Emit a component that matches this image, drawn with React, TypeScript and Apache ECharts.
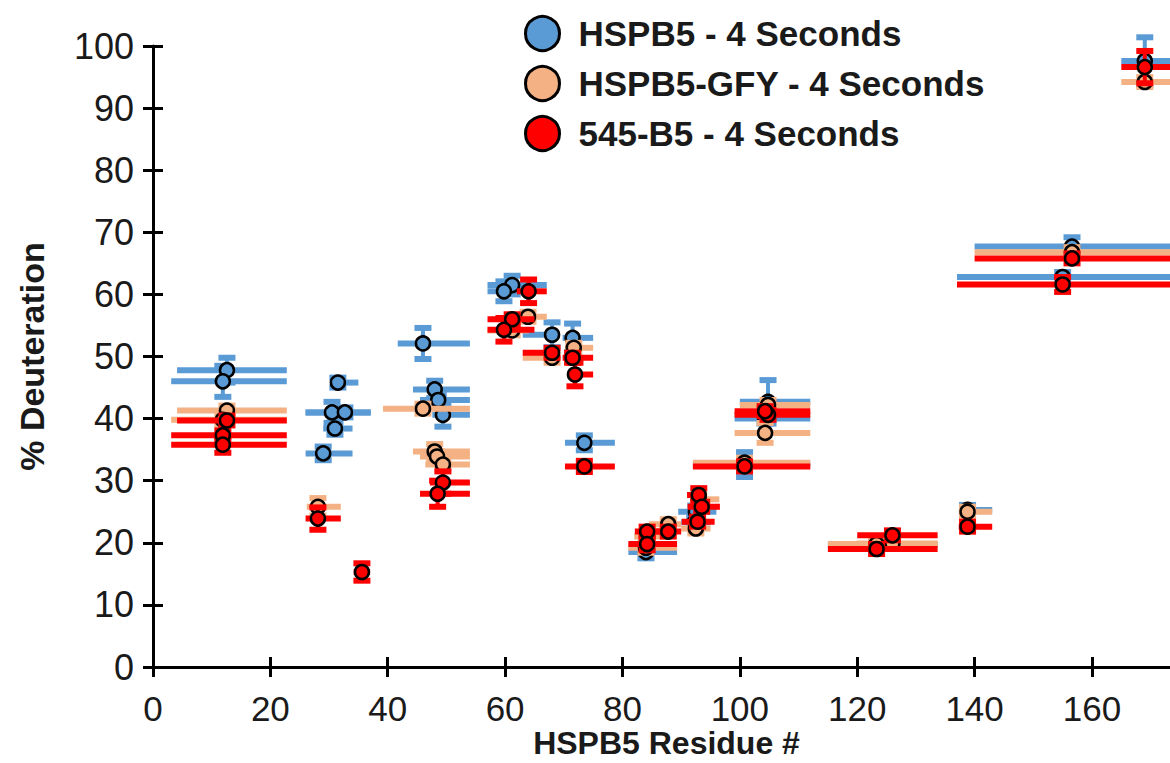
import React, { useEffect, useRef } from "react";
import * as echarts from "echarts";

// ---------- DATA ----------
const SERIES_NAMES = ["HSPB5 - 4 Seconds", "HSPB5-GFY - 4 Seconds", "545-B5 - 4 Seconds"];
const X_TICKS = [0, 20, 40, 60, 80, 100, 120, 140, 160];

// HSPB5 (blue): residue midpoint, % deuteration, peptide start, peptide end, std dev
const HSPB5_X = [12.6, 11.9, 31.5, 30.5, 32.7, 31.0, 29.0, 46.0, 48.0, 48.6, 49.4, 61.2, 59.8, 68.0, 71.5, 73.5, 84.0, 92.5, 92.3, 104.8, 104.3, 100.8, 123.3, 138.8, 156.6, 155.0, 169.0];
const HSPB5_Y = [47.8, 46.0, 45.8, 41.0, 41.0, 38.4, 34.4, 52.1, 44.7, 43.0, 40.6, 61.5, 60.5, 53.5, 53.0, 36.1, 18.5, 25.0, 23.3, 42.7, 40.0, 32.6, 19.7, 25.3, 67.7, 62.8, 97.6];
const HSPB5_START = [4.1, 3.1, 30.5, 26.0, 26.0, 29.0, 26.0, 41.7, 44.3, 45.5, 47.6, 57.0, 57.0, 63.0, 69.8, 70.2, 81.0, 89.5, 90.0, 100.0, 99.1, 92.0, 115.0, 137.5, 140.0, 137.0, 165.0];
const HSPB5_END = [22.8, 22.8, 35.0, 37.1, 37.1, 34.0, 34.0, 54.0, 54.0, 54.0, 54.0, 67.1, 64.0, 69.3, 75.0, 78.7, 89.3, 96.0, 95.0, 112.0, 112.0, 112.0, 133.7, 143.0, 175.0, 175.0, 175.0];
const HSPB5_SD = [2.0, 2.5, 0.8, 1.7, 0.8, 1.0, 1.1, 2.5, 1.4, 0.8, 1.9, 1.5, 1.6, 2.0, 2.3, 1.2, 1.0, 1.0, 0.8, 3.5, 0.8, 2.0, 0.8, 0.8, 1.5, 0.8, 3.8];

// HSPB5-GFY (peach)
const GFY_X = [12.6, 11.9, 28.1, 46.0, 48.0, 48.4, 49.4, 63.9, 61.2, 68.0, 71.7, 84.0, 84.2, 87.8, 93.0, 92.5, 104.8, 104.3, 100.8, 123.3, 126.0, 138.8, 156.6, 169.0];
const GFY_Y = [41.3, 39.8, 25.8, 41.6, 34.7, 33.9, 32.6, 56.4, 54.2, 49.8, 51.4, 19.2, 21.0, 23.0, 27.0, 22.3, 42.2, 37.7, 32.9, 19.8, 19.9, 25.0, 66.8, 94.2];
const GFY_START = [4.1, 3.1, 26.2, 39.2, 44.3, 45.5, 46.4, 62.0, 57.0, 63.0, 70.2, 81.0, 82.0, 84.5, 91.5, 90.0, 100.0, 99.1, 92.0, 115.0, 120.0, 137.3, 140.0, 165.0];
const GFY_END = [22.8, 22.8, 32.0, 54.0, 54.0, 54.0, 54.0, 67.1, 64.0, 69.3, 75.0, 89.3, 88.0, 90.0, 96.5, 95.0, 112.0, 112.0, 112.0, 133.7, 133.7, 143.0, 175.0, 175.0];
const GFY_SD = [0.8, 0.8, 1.4, 0.8, 1.2, 0.8, 0.8, 0.8, 0.8, 0.8, 0.8, 0.8, 0.8, 0.8, 0.8, 0.8, 0.8, 1.6, 0.8, 0.8, 0.8, 0.8, 0.8, 0.8];

// 545-B5 (red)
const B545_X = [12.6, 11.9, 11.9, 28.1, 35.6, 49.4, 48.5, 64.0, 61.2, 59.8, 68.0, 71.5, 71.9, 73.5, 84.2, 84.2, 87.8, 93.0, 93.5, 92.8, 104.8, 104.3, 100.8, 123.3, 126.0, 138.8, 156.6, 155.0, 169.0];
const B545_Y = [39.7, 37.3, 35.8, 23.9, 15.3, 29.7, 27.9, 60.5, 56.0, 54.3, 50.6, 49.8, 47.1, 32.3, 21.8, 19.8, 21.8, 27.7, 25.8, 23.4, 40.6, 41.2, 32.3, 19.0, 21.2, 22.6, 65.8, 61.6, 96.6];
const B545_START = [4.1, 3.1, 3.1, 26.0, 34.2, 47.2, 45.5, 62.0, 57.0, 57.0, 63.0, 69.8, 71.0, 70.2, 82.1, 81.0, 84.5, 91.0, 91.1, 90.1, 99.1, 99.1, 92.0, 115.0, 120.0, 137.3, 140.0, 137.0, 165.0];
const B545_END = [22.8, 22.8, 22.8, 32.0, 37.0, 54.0, 54.0, 67.1, 65.0, 65.0, 69.3, 75.0, 75.0, 78.7, 88.0, 89.3, 90.0, 94.0, 96.6, 95.7, 112.0, 112.0, 112.0, 133.7, 133.7, 143.0, 175.0, 175.0, 175.0];
const B545_SD = [0.8, 0.8, 1.3, 1.8, 1.4, 1.8, 2.1, 1.9, 0.8, 1.9, 0.8, 0.8, 1.9, 0.9, 0.8, 1.0, 0.8, 1.1, 0.8, 0.8, 0.8, 0.8, 0.8, 0.8, 0.8, 0.8, 0.8, 1.2, 2.6];

const COLORS = ["#5B9BD5", "#F4B183", "#FF0000"];
const FONT = "'Liberation Sans', Arial, sans-serif";
const TEXT = "#1a1a1a";

type Rows = { x: number[]; y: number[]; s: number[]; e: number[]; sd: number[] };
const SETS: Rows[] = [
  { x: HSPB5_X, y: HSPB5_Y, s: HSPB5_START, e: HSPB5_END, sd: HSPB5_SD },
  { x: GFY_X, y: GFY_Y, s: GFY_START, e: GFY_END, sd: GFY_SD },
  { x: B545_X, y: B545_Y, s: B545_START, e: B545_END, sd: B545_SD },
];

function buildOption() {
  const series: any[] = [];
  SETS.forEach((set, i) => {
    const color = COLORS[i];
    const errData = set.x.map((x, k) => [x, set.y[k], set.s[k], set.e[k], set.sd[k]]);
    series.push({
      type: "custom",
      name: "err" + i,
      xAxisIndex: 0,
      yAxisIndex: 0,
      z: 2 + i * 2,
      clip: false,
      silent: true,
      data: errData,
      encode: { x: 0, y: 1 },
      renderItem: (_p: any, api: any) => {
        const x = api.value(0);
        const y = api.value(1);
        const lo = api.value(2);
        const hi = api.value(3);
        const sd = api.value(4);
        const pl = api.coord([lo, y]);
        const pr = api.coord([hi, y]);
        const pt = api.coord([x, y + sd]);
        const pb = api.coord([x, y - sd]);
        const cap = 8.5;
        return {
          type: "group",
          children: [
            { type: "line", shape: { x1: pl[0], y1: pl[1], x2: pr[0], y2: pr[1] }, style: { stroke: color, lineWidth: 6 } },
            { type: "line", shape: { x1: pt[0], y1: pt[1], x2: pb[0], y2: pb[1] }, style: { stroke: color, lineWidth: 4 } },
            { type: "line", shape: { x1: pt[0] - cap, y1: pt[1], x2: pt[0] + cap, y2: pt[1] }, style: { stroke: color, lineWidth: 6 } },
            { type: "line", shape: { x1: pb[0] - cap, y1: pb[1], x2: pb[0] + cap, y2: pb[1] }, style: { stroke: color, lineWidth: 6 } },
          ],
        };
      },
    });
    series.push({
      type: "scatter",
      name: SERIES_NAMES[i],
      xAxisIndex: 0,
      yAxisIndex: 0,
      z: 3 + i * 2,
      symbol: "circle",
      symbolSize: 14,
      itemStyle: { color, borderColor: "#000", borderWidth: 2.5, opacity: 1 },
      data: set.x.map((x, k) => [x, set.y[k]]),
    });
  });

  const gridBox = { left: 153, top: 46, right: 40, bottom: 96, outerBoundsMode: "none" };
  const axisCommonX = {
    type: "value",
    min: 0,
    max: 175,
    interval: 20,
    splitLine: { show: false },
  };
  const axisCommonY = {
    type: "value",
    min: 0,
    max: 100,
    interval: 10,
    splitLine: { show: false },
  };

  return {
    animation: false,
    backgroundColor: "#ffffff",
    grid: [gridBox, { ...gridBox }],
    legend: {
      data: SERIES_NAMES,
      orient: "vertical",
      left: 519,
      top: 10,
      itemWidth: 34,
      itemHeight: 34,
      itemGap: 13,
      icon: "circle",
      itemStyle: { borderColor: "#000", borderWidth: 3 },
      textStyle: { fontFamily: FONT, fontSize: 35, fontWeight: "bold", color: TEXT, padding: [0, 0, 0, 14] },
      selectedMode: false,
    },
    xAxis: [
      {
        ...axisCommonX,
        gridIndex: 0,
        position: "bottom",
        name: "HSPB5 Residue #",
        nameLocation: "middle",
        nameGap: 61,
        nameMoveOverlap: false,
        nameTextStyle: { fontFamily: FONT, fontSize: 32, lineHeight: 30, fontWeight: "bold", color: TEXT },
        axisLine: { show: true, onZero: false, lineStyle: { color: "#000", width: 3 } },
        axisTick: { show: true, inside: false, length: 10, lineStyle: { color: "#000", width: 3 } },
        axisLabel: { show: true, fontFamily: FONT, fontSize: 35, lineHeight: 30, color: TEXT, margin: 26, showMaxLabel: false,
          formatter: (v: number) => (X_TICKS.includes(v) ? String(v) : "") },
      },
      {
        ...axisCommonX,
        gridIndex: 1,
        position: "bottom",
        axisLine: { show: false },
        axisTick: { show: true, inside: true, length: 10, lineStyle: { color: "#000", width: 3 } },
        axisLabel: { show: false },
      },
    ],
    yAxis: [
      {
        ...axisCommonY,
        gridIndex: 0,
        position: "left",
        name: "% Deuteration",
        nameLocation: "middle",
        nameGap: 104,
        nameMoveOverlap: false,
        nameTextStyle: { fontFamily: FONT, fontSize: 34, fontWeight: "bold", color: TEXT },
        axisLine: { show: true, onZero: false, lineStyle: { color: "#000", width: 3 } },
        axisTick: { show: true, inside: false, length: 10, lineStyle: { color: "#000", width: 3 } },
        axisLabel: { show: true, fontFamily: FONT, fontSize: 36, color: TEXT, margin: 19 },
      },
      {
        ...axisCommonY,
        gridIndex: 1,
        position: "left",
        axisLine: { show: false },
        axisTick: { show: true, inside: true, length: 10, lineStyle: { color: "#000", width: 3 } },
        axisLabel: { show: false },
      },
    ],
    series,
  };
}

export default function App() {
  const ref = useRef<HTMLDivElement>(null);
  useEffect(() => {
    if (!ref.current) return;
    const chart = echarts.init(ref.current, null, { renderer: "svg" });
    chart.setOption(buildOption() as any);
    return () => chart.dispose();
  }, []);
  return (
    <div style={{ position: "absolute", left: 0, top: 0, width: 1170, height: 763, overflow: "hidden", background: "#fff" }}>
      <div ref={ref} style={{ width: 1220, height: 763 }} />
    </div>
  );
}
